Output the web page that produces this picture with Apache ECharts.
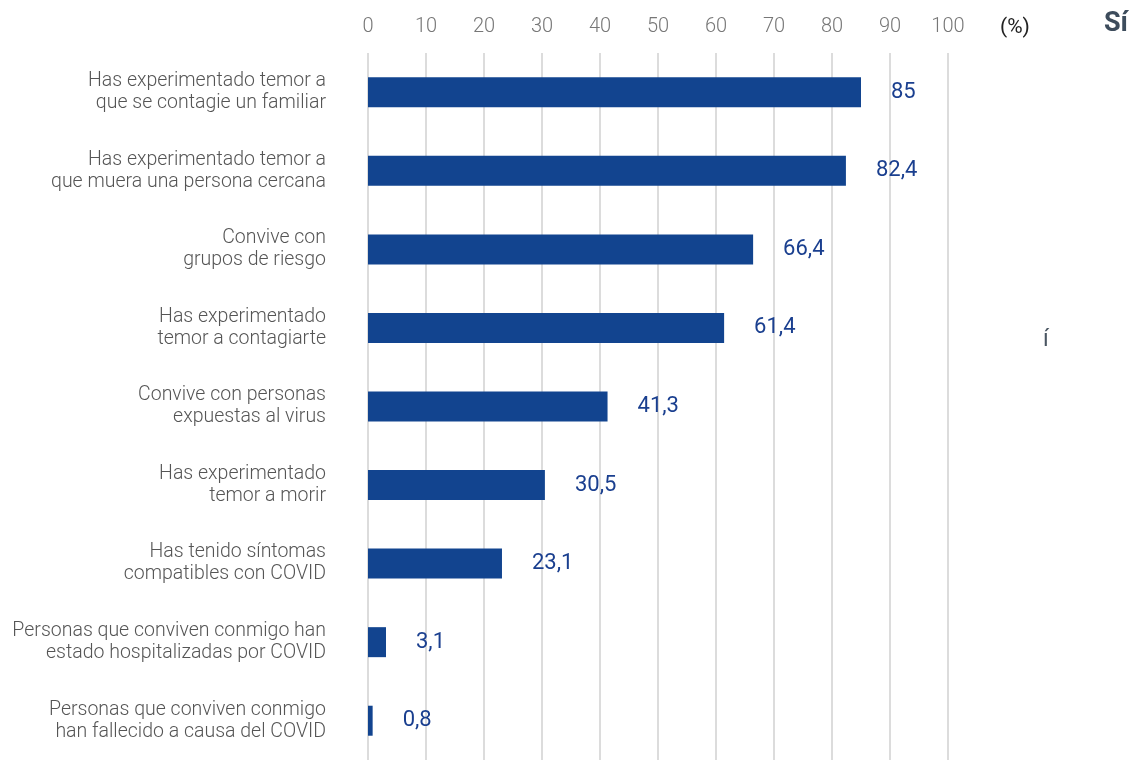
<!DOCTYPE html>
<html>
<head>
<meta charset="utf-8">
<script src="https://cdn.jsdelivr.net/npm/echarts@6/dist/echarts.min.js"></script>
<style>
html,body{margin:0;padding:0;background:#fff;}
#chart{width:1145px;height:763px;}
</style>
</head>
<body>
<div id="chart"></div>
<script>
const categories = [
  "Has experimentado temor a\nque se contagie un familiar",
  "Has experimentado temor a\nque muera una persona cercana",
  "Convive con\ngrupos de riesgo",
  "Has experimentado\ntemor a contagiarte",
  "Convive con personas\nexpuestas al virus",
  "Has experimentado\ntemor a morir",
  "Has tenido síntomas\ncompatibles con COVID",
  "Personas que conviven conmigo han\nestado hospitalizadas por COVID",
  "Personas que conviven conmigo\nhan fallecido a causa del COVID"
];
const values = [85, 82.4, 66.4, 61.4, 41.3, 30.5, 23.1, 3.1, 0.8];
const unitLabel = "(%)";
const legendLabel = "Sí";

const chart = echarts.init(document.getElementById('chart'));
const fontFamily = 'Roboto';
chart.setOption({
  animation: false,
  grid: {left: 368, right: 197, top: 53, bottom: 3, containLabel: false},
  xAxis: {
    type: 'value', position: 'top', min: 0, max: 100, interval: 10,
    axisLine: {show: false}, axisTick: {show: false},
    axisLabel: {color: '#777', fontSize: 20, fontFamily: fontFamily, fontWeight: 300, margin: 16},
    splitLine: {show: true, lineStyle: {color: '#d0d0d0', width: 1.5}}
  },
  yAxis: {
    type: 'category', inverse: true, data: categories,
    axisLine: {show: false}, axisTick: {show: false},
    axisLabel: {color: '#555', fontSize: 19.5, fontFamily: fontFamily, fontWeight: 300, margin: 42, lineHeight: 22, align: 'right'}
  },
  series: [{
    type: 'bar', data: values, barWidth: 30,
    itemStyle: {color: '#12448f'},
    label: {
      show: true, position: 'right', distance: 30,
      color: '#1a3f8f', fontSize: 22, fontFamily: fontFamily,
      formatter: p => String(p.value).replace('.', ',')
    }
  }],
  graphic: [
    {type: 'text', left: 1000, top: 17, style: {text: unitLabel, fill: '#222', font: '21px Roboto'}},
    {type: 'text', left: 1104, top: 11, style: {text: legendLabel, fill: '#3d4c5c', font: 'bold 27px Roboto'}},
    {type: 'text', left: 1043, top: 329, style: {text: 'í', fill: '#4a5662', font: '23px Roboto'}}
  ]
});
</script>
</body>
</html>
